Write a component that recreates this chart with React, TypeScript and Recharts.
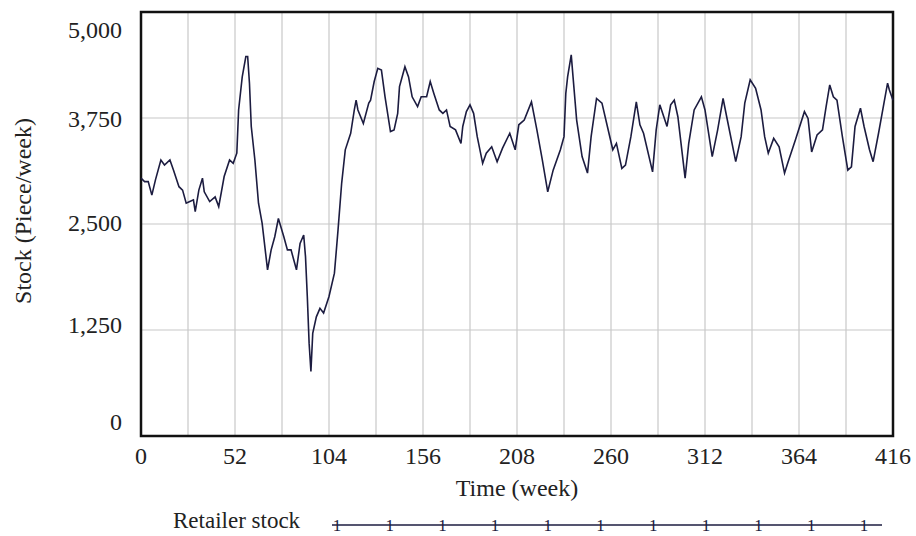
import * as React from "react"
import {
    LineChart,
    Line,
    XAxis,
    YAxis,
    CartesianGrid,
    ReferenceArea,
    Label,
} from "recharts"

// weeks
const weeks = [
    0, 2, 4, 6, 8, 11, 13, 16, 18, 21, 23, 25, 27, 29, 30, 32, 34, 35, 38, 41, 43, 46, 49, 51,
    53, 54, 56, 58, 59, 60, 61, 63, 65, 67, 70, 72, 74, 76, 79, 81, 83, 86, 88, 90, 91, 92, 93,
    94, 95, 97, 99, 101, 104, 107, 109, 111, 113, 116, 118, 119, 120, 123, 126, 127, 129, 131,
    133, 135, 138, 140, 142, 143, 146, 148, 150, 153, 155, 158, 160, 162, 165, 167, 169, 171,
    174, 177, 178, 180, 182, 184, 186, 189, 191, 194, 197, 200, 204, 207, 209, 212, 216, 219,
    222, 225, 228, 232, 234, 235, 236, 238, 239, 241, 244, 247, 249, 252, 255, 258, 261, 263,
    266, 268, 271, 274, 276, 278, 283, 285, 287, 291, 293, 295, 297, 301, 303, 306, 310, 312,
    316, 319, 322, 324, 329, 332, 334, 337, 340, 343, 345, 347, 350, 353, 356, 358, 362, 367,
    369, 371, 374, 377, 379, 381, 383, 385, 388, 391, 393, 395, 398, 400, 403, 405, 408, 411,
    413, 414, 416,
]

// retailer stock (piece/week)
const retailerStock = [
    3040, 3000, 3000, 2840, 3020, 3255, 3195, 3255, 3135, 2940, 2900, 2745, 2765, 2785, 2645,
    2900, 3040, 2880, 2765, 2820, 2705, 3060, 3255, 3215, 3335, 3845, 4235, 4475, 4475, 4160,
    3650, 3255, 2745, 2510, 1960, 2195, 2350, 2565, 2350, 2195, 2195, 1960, 2270, 2370, 2115,
    1645, 1095, 760, 1210, 1405, 1505, 1450, 1645, 1920, 2430, 2980, 3375, 3570, 3845, 3960,
    3845, 3685, 3925, 3960, 4180, 4335, 4315, 4000, 3590, 3610, 3805, 4120, 4355, 4235, 4000,
    3885, 4000, 4000, 4180, 4040, 3845, 3805, 3845, 3650, 3610, 3450, 3650, 3825, 3905, 3805,
    3530, 3215, 3335, 3410, 3235, 3395, 3570, 3375, 3670, 3725, 3940, 3610, 3255, 2880, 3135,
    3375, 3530, 4040, 4235, 4495, 4235, 3725, 3295, 3100, 3530, 3980, 3925, 3650, 3375, 3450,
    3155, 3195, 3530, 3940, 3670, 3570, 3115, 3610, 3905, 3650, 3905, 3960, 3765, 3040, 3450,
    3845, 4000, 3845, 3295, 3610, 3980, 3765, 3235, 3530, 3925, 4200, 4100, 3845, 3530, 3335,
    3510, 3410, 3100, 3235, 3490, 3825, 3745, 3350, 3550, 3610, 3885, 4140, 4000, 3960, 3530,
    3135, 3175, 3650, 3865, 3650, 3375, 3235, 3570, 3925, 4160, 4080, 3960,
]

const xTicks = [0, 26, 52, 78, 104, 130, 156, 182, 208, 234, 260, 286, 312, 338, 364, 390, 416]
const yTicks = [0, 1250, 2500, 3750, 5000]

const data = weeks.map((w, i) => ({ week: w, stock: retailerStock[i] }))

const FONT = '"Liberation Serif", "Times New Roman", serif'
const TEXT = "#222"
const LINE = "#1c1c40"

// vensim style: end labels pulled inside the frame
const yLabelShift: Record<number, number> = { 0: -15, 1250: -6, 2500: -2, 3750: 0, 5000: 17 }

const YTick = ({ x, y, payload }: any) => (
    <text
        x={x}
        y={y + (yLabelShift[payload.value] ?? 0)}
        dy="0.355em"
        textAnchor="end"
        fill={TEXT}
        fontSize={24}
        fontFamily={FONT}
    >
        {payload.value.toLocaleString("en-US")}
    </text>
)

const YTitle = ({ viewBox }: any) => {
    const cx = viewBox.x + 23
    const cy = viewBox.y + viewBox.height / 2 - 13
    return (
        <text
            x={cx}
            y={cy}
            transform={`rotate(-90, ${cx}, ${cy})`}
            textAnchor="middle"
            dominantBaseline="central"
            fill={TEXT}
            fontSize={24}
            fontFamily={FONT}
        >
            Stock (Piece/week)
        </text>
    )
}

function LegendRow() {
    const markers = Array.from({ length: 11 }, (_, i) => 5 + i * 52.7)
    return (
        <div style={{ position: "absolute", left: 0, top: 506, width: 916, height: 30 }}>
            <span
                style={{
                    position: "absolute",
                    left: 173,
                    top: 0,
                    fontFamily: FONT,
                    fontSize: 23,
                    color: TEXT,
                    lineHeight: "30px",
                }}
            >
                Retailer stock
            </span>
            <svg style={{ position: "absolute", left: 332, top: 0 }} width={552} height={30}>
                <line x1={0} x2={550} y1={19} y2={19} stroke={LINE} strokeWidth={1.6} />
                {markers.map((mx, i) => (
                    <text
                        key={`m-${i}`}
                        x={mx}
                        y={19}
                        dy="0.36em"
                        textAnchor="middle"
                        fill={LINE}
                        fontSize={17}
                        fontFamily={FONT}
                    >
                        1
                    </text>
                ))}
            </svg>
        </div>
    )
}

export default function App() {
    return (
        <div style={{ position: "absolute", left: 0, top: 0, width: 916, height: 536, background: "#fff" }}>
            <LineChart
                width={916}
                height={536}
                data={data}
                margin={{ top: 12, right: 23, bottom: 0, left: 0 }}
            >
                <CartesianGrid stroke="#c8c8c8" strokeWidth={1.2} />
                <XAxis
                    dataKey="week"
                    type="number"
                    domain={[0, 416]}
                    ticks={xTicks}
                    interval={0}
                    axisLine={false}
                    tickLine={false}
                    tickSize={0}
                    tickMargin={11}
                    height={100}
                    tickFormatter={(v: number) => (v % 52 === 0 ? String(v) : "")}
                    tick={{ fill: TEXT, fontSize: 24, fontFamily: FONT }}
                >
                    <Label
                        value="Time (week)"
                        position="insideTop"
                        offset={43}
                        fill={TEXT}
                        fontSize={24}
                        fontFamily={FONT}
                    />
                </XAxis>
                <YAxis
                    type="number"
                    domain={[0, 5000]}
                    ticks={yTicks}
                    interval={0}
                    width={141}
                    axisLine={false}
                    tickLine={false}
                    tickSize={0}
                    tickMargin={19}
                    tick={<YTick />}
                >
                    <Label content={<YTitle />} position="insideLeft" />
                </YAxis>
                <ReferenceArea
                    x1={0}
                    x2={416}
                    y1={0}
                    y2={5000}
                    fill="none"
                    stroke="#111"
                    strokeWidth={2.5}
                    ifOverflow="visible"
                />
                <Line
                    type="linear"
                    dataKey="stock"
                    stroke={LINE}
                    strokeWidth={1.6}
                    dot={false}
                    isAnimationActive={false}
                />
            </LineChart>
            <LegendRow />
        </div>
    )
}
